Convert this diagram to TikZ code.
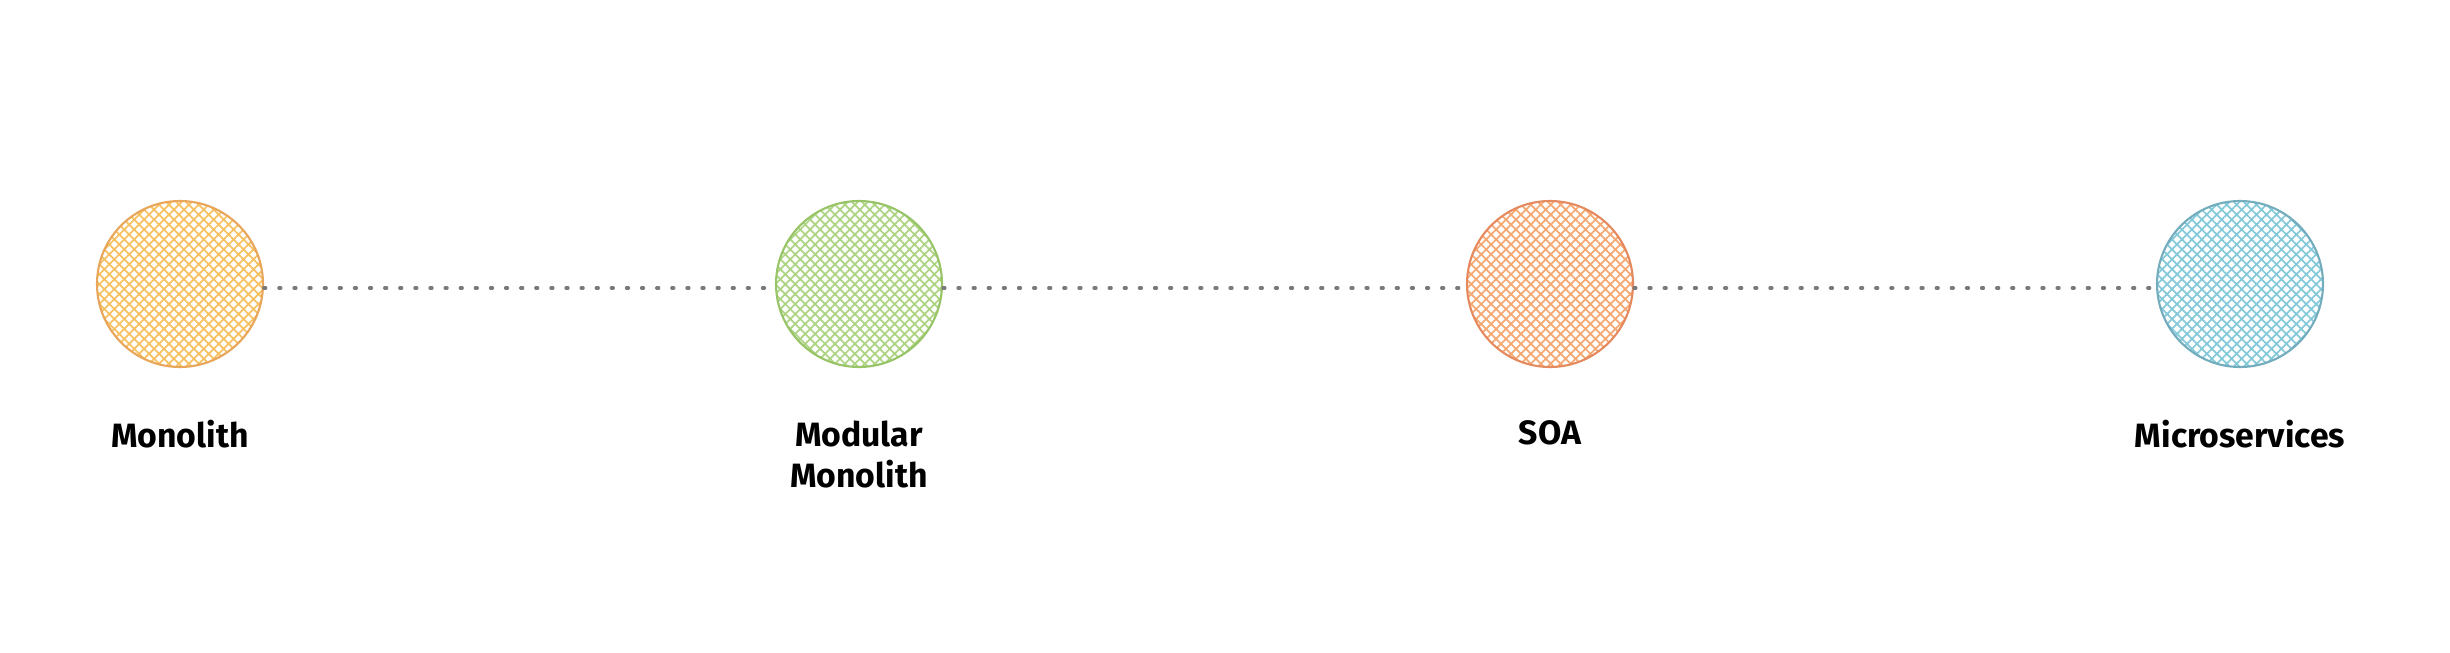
\documentclass[tikz,border=0pt]{standalone}
\usepackage{fontspec}
\setmainfont{Fira Sans}
\usetikzlibrary{positioning,patterns.meta}

\definecolor{monoline}{HTML}{E8A65A}
\definecolor{monofill}{HTML}{F7C060}
\definecolor{modline}{HTML}{98C468}
\definecolor{modfill}{HTML}{ACD482}
\definecolor{soaline}{HTML}{E5895E}
\definecolor{soafill}{HTML}{F5A872}
\definecolor{msline}{HTML}{73ADBD}
\definecolor{msfill}{HTML}{84C9D9}
\definecolor{linkgray}{HTML}{7A7A7A}

\begin{document}
\begin{tikzpicture}[
    stage/.style={circle, minimum size=1.66cm, inner sep=0pt, line width=0.6pt,
        draw=#1line, pattern color=#1fill,
        pattern={Hatch[angle=45,distance=2pt,line width=0.5pt]}},
    caption/.style={font=\bfseries\fontsize{9.6}{11.8}\selectfont, align=center},
    link/.style={draw=linkgray, line width=1pt, line cap=round,
        dash pattern=on 0.5pt off 3.8pt}
]
\useasboundingbox (0,0) rectangle (24.5,-6.52);

% Stages
\node[stage=mono] (mono)    at (1.80,-2.84) {};
\node[stage=mod]  (modmono) at (8.59,-2.84) {};
\node[stage=soa]  (soa)     at (15.50,-2.84) {};
\node[stage=ms]   (micro)   at (22.40,-2.84) {};

% Labels
\node[caption, below=0.4cm of mono]    (monolabel)  {Monolith};
\node[caption, below=0.4cm of modmono] (modlabel)   {Modular\\Monolith};
\node[caption, below=0.4cm of soa]     (soalabel)   {SOA};
\node[caption, below=0.4cm of micro]   (microlabel) {Microservices};

% Dotted links
\foreach \a/\b in {mono/modmono, modmono/soa, soa/micro}
    \draw[link] ([yshift=-0.04cm]\a.east) -- ([yshift=-0.04cm]\b.west);

\end{tikzpicture}
\end{document}
